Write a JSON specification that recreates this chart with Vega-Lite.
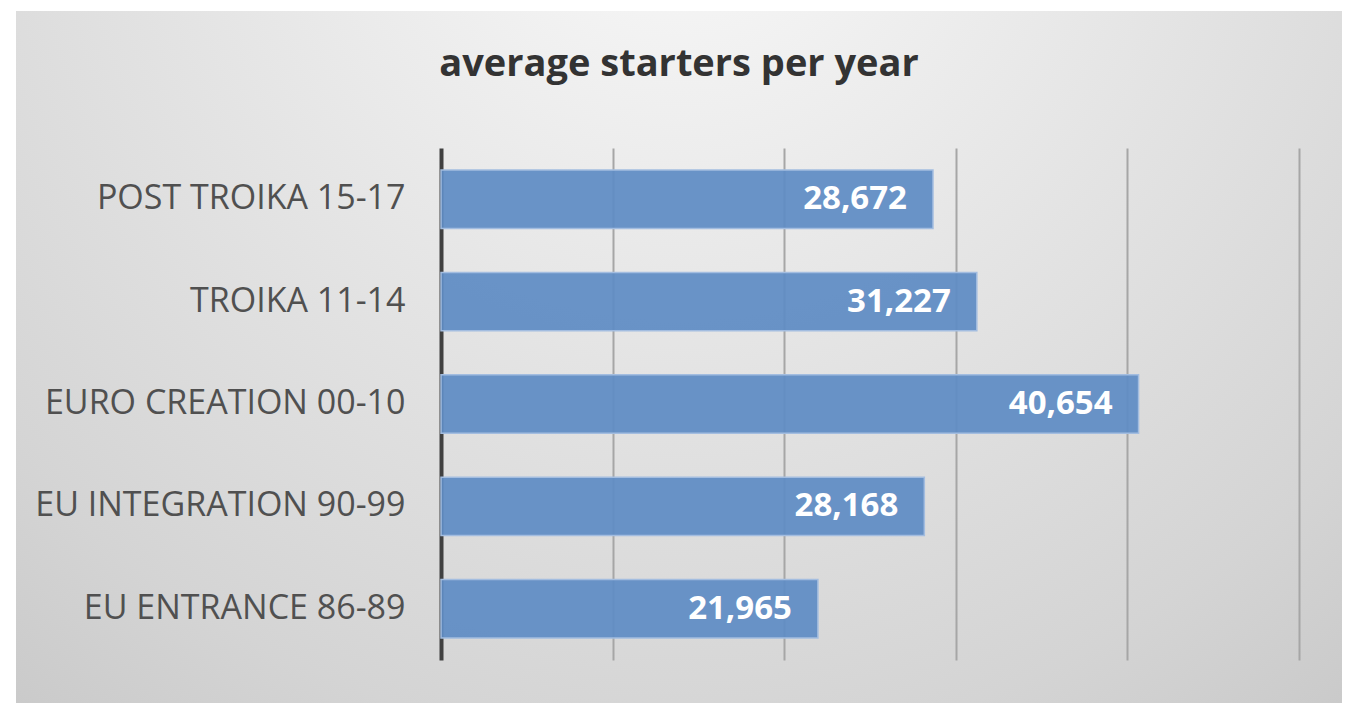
{
  "$schema": "https://vega.github.io/schema/vega-lite/v6.json",
  "width": 1352,
  "height": 715,
  "autosize": {"type": "fit", "contains": "padding"},
  "padding": {"left": 16, "top": 11, "right": 10, "bottom": 12},
  "background": "white",
  "title": {
    "text": "average starters per year",
    "font": "Open Sans",
    "fontSize": 38,
    "fontWeight": "bold",
    "color": "#333333",
    "anchor": "middle",
    "baseline": "alphabetic",
    "offset": -103
  },
  "data": {
    "values": [
      {"period": "POST TROIKA 15-17", "starters": 28672},
      {"period": "TROIKA 11-14", "starters": 31227},
      {"period": "EURO CREATION 00-10", "starters": 40654},
      {"period": "EU INTEGRATION 90-99", "starters": 28168},
      {"period": "EU ENTRANCE 86-89", "starters": 21965}
    ]
  },
  "encoding": {
    "y": {
      "field": "period",
      "type": "nominal",
      "sort": null,
      "title": null,
      "scale": {"range": [137, 649], "paddingInner": 0.43, "paddingOuter": 0.215},
      "axis": {
        "offset": -425,
        "ticks": false,
        "labelPadding": 36,
        "labelLimit": 500,
        "labelFont": "Open Sans",
        "labelFontSize": 34,
        "labelColor": "#505050",
        "domainColor": "#404040",
        "domainWidth": 4,
        "grid": false
      }
    },
    "x": {
      "field": "starters",
      "type": "quantitative",
      "title": null,
      "scale": {"domain": [-24770, 52510], "nice": false, "zero": false},
      "axis": {
        "orient": "top",
        "values": [10000, 20000, 30000, 40000, 50000],
        "labels": false,
        "ticks": false,
        "domain": false,
        "grid": true,
        "gridColor": "#a6a6a6",
        "gridWidth": 2
      }
    }
  },
  "layer": [
    {
      "mark": {"type": "bar", "color": "#5f8cc4", "fillOpacity": 0.93, "stroke": "#a3bde0", "strokeWidth": 1.5}
    },
    {
      "mark": {
        "type": "text",
        "align": "right",
        "baseline": "middle",
        "dx": -26,
        "font": "Open Sans",
        "fontSize": 33,
        "fontWeight": "bold",
        "color": "white"
      },
      "encoding": {
        "text": {"field": "starters", "type": "quantitative", "format": ","}
      }
    }
  ],
  "config": {
    "view": {
      "stroke": null,
      "fill": {
        "gradient": "radial",
        "x1": 0.5, "y1": 0.12, "r1": 0,
        "x2": 0.5, "y2": 0.12, "r2": 0.9,
        "stops": [
          {"offset": 0, "color": "#fafafa"},
          {"offset": 0.45, "color": "#e3e3e3"},
          {"offset": 0.75, "color": "#d4d4d4"},
          {"offset": 1, "color": "#c4c4c4"}
        ]
      }
    }
  }
}
